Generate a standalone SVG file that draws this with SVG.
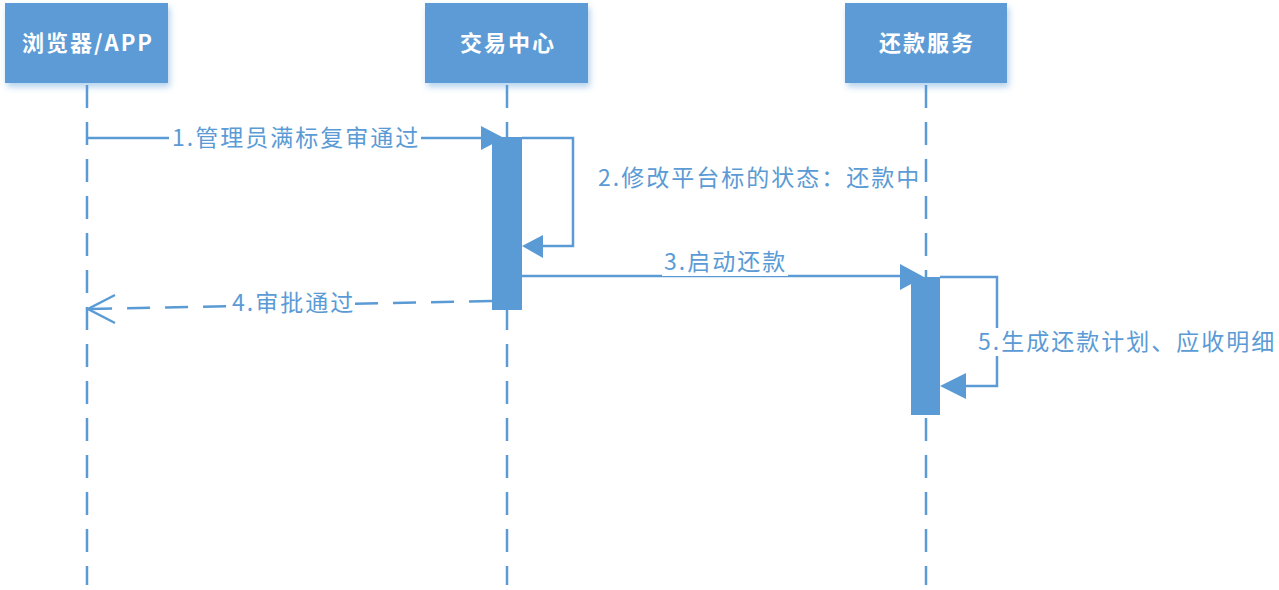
<svg xmlns="http://www.w3.org/2000/svg" width="1279" height="590" viewBox="0 0 1279 590">
<defs>
<filter id="sh" x="-10%" y="-10%" width="130%" height="140%">
<feDropShadow dx="2" dy="4" stdDeviation="3" flood-color="#5B9BD5" flood-opacity="0.45"/>
</filter>
<style>
.box{fill:#5B9BD5;filter:url(#sh)}
.hd{font-family:"Noto Sans CJK SC","Microsoft YaHei",sans-serif;font-size:22px;font-weight:bold;fill:#ffffff;text-anchor:middle;letter-spacing:2px}
.life{stroke:#5B9BD5;stroke-width:2.5;stroke-dasharray:23 14;fill:none}
.ln{stroke:#5B9BD5;stroke-width:2.5;fill:none}
.dash{stroke:#5B9BD5;stroke-width:2.5;fill:none;stroke-dasharray:23 15}
.ah{fill:#5B9BD5}
.bar{fill:#5B9BD5}
.lb{font-family:"Noto Sans CJK SC","Microsoft YaHei",sans-serif;font-size:23px;fill:#5B9BD5;letter-spacing:2px}
.bg{fill:#ffffff}
</style>
</defs>
<rect width="1279" height="590" fill="#ffffff"/>
<g id="node-browser">
<rect class="box" x="5" y="3" width="163" height="80"/>
<text class="hd" x="88" y="51">浏览器/APP</text>
<line class="life" x1="87" y1="85" x2="87" y2="585"/>
</g>
<g id="node-trade">
<rect class="box" x="425" y="3" width="163" height="80"/>
<text class="hd" x="508" y="51">交易中心</text>
<line class="life" x1="507" y1="85" x2="507" y2="585"/>
</g>
<g id="node-repay">
<rect class="box" x="845" y="3" width="162" height="80"/>
<text class="hd" x="927" y="51">还款服务</text>
<line class="life" x1="926" y1="85" x2="926" y2="585"/>
</g>
<g id="connectors">
<line class="ln" x1="87" y1="138" x2="485" y2="138"/>
<polygon class="ah" points="481,126 481,150 504,138"/>
<path class="ln" d="M522,138 H573 V246 H538"/>
<polygon class="ah" points="522,246 543,235 543,258"/>
<line class="ln" x1="522" y1="276" x2="905" y2="276"/>
<polygon class="ah" points="900,264 900,290 924,277"/>
<line class="dash" x1="492" y1="301" x2="90" y2="309"/>
<polyline class="ln" points="115,295 88,309 115,323"/>
<path class="ln" d="M940,277 H997 V386 H960"/>
<polygon class="ah" points="940,386 966,373 966,399"/>
</g>
<g id="activations">
<rect class="bar" x="492" y="137" width="30" height="173"/>
<rect class="bar" x="911" y="277" width="29" height="138"/>
</g>
<g id="labels">
<rect class="bg" x="169" y="125" width="252" height="26"/>
<text class="lb" x="172" y="146">1.管理员满标复审通过</text>
<text class="lb" x="598" y="186">2.修改平台标的状态：还款中</text>
<rect class="bg" x="662" y="248" width="126" height="28"/>
<text class="lb" x="664" y="270">3.启动还款</text>
<rect class="bg" x="228" y="290" width="124" height="26"/>
<text class="lb" x="232" y="311">4.审批通过</text>
<rect class="bg" x="975" y="328" width="304" height="28"/>
<text class="lb" x="978" y="350">5.生成还款计划、应收明细</text>
</g>
</svg>
